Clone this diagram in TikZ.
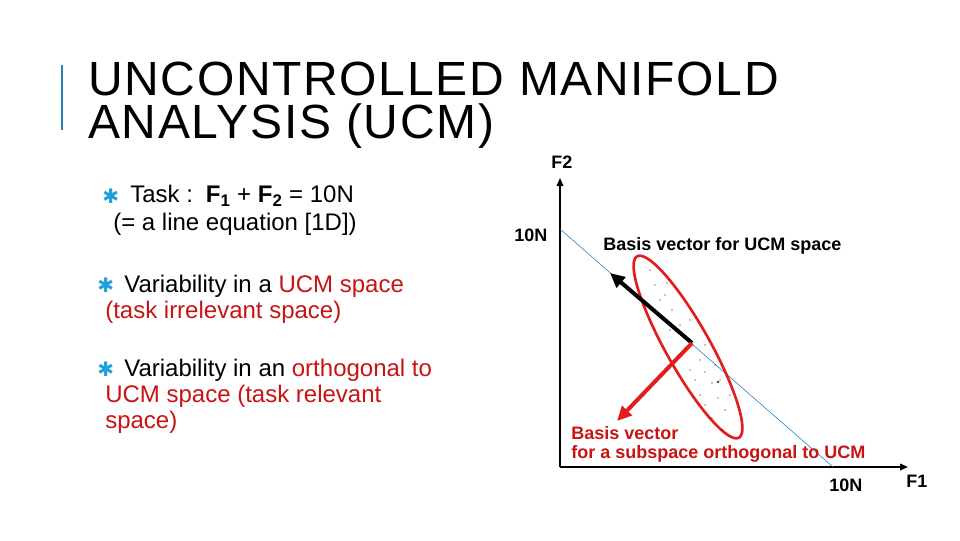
\documentclass[tikz,border=0pt]{standalone}
\usepackage{fontspec}
\setmainfont{Liberation Sans}
\newfontfamily\dv{DejaVu Sans}
\newfontfamily\titlefont[LetterSpace=3.5]{Liberation Sans}
\usetikzlibrary{arrows.meta}
\definecolor{tred}{RGB}{200,20,20}
\definecolor{bred}{RGB}{225,30,30}
\definecolor{barblue}{RGB}{40,130,190}
\definecolor{star}{RGB}{30,160,220}
\begin{document}
\begin{tikzpicture}[x=0.75pt,y=-0.75pt,
  body/.style={anchor=west,font=\fontsize{18}{18}\selectfont,inner sep=0},
  lbl/.style={font=\fontsize{13.5}{13.5}\selectfont\bfseries,inner sep=0},
  bul/.style={anchor=west,text=star,font=\dv\fontsize{15}{15}\selectfont,inner sep=0}]
\useasboundingbox (0,0) rectangle (960,540);
\fill[white] (0,0) rectangle (960,540);
\draw[barblue,line width=1.5pt] (62,65) -- (62,130);
\node[anchor=west,inner sep=0,font=\titlefont\fontsize{36}{36}\selectfont] (t1) at (88,79) {UNCONTROLLED MANIFOLD};
\node[anchor=west,inner sep=0,font=\titlefont\fontsize{36}{36}\selectfont] (t2) at (88,126) {ANALYSIS (UCM)};
% bullets
\node[bul] (b1) at (102,196) {✱};
\node[body] (l1) at (130,196) {Task :\, \textbf{F\textsubscript{1}} + \textbf{F\textsubscript{2}} = 10N};
\node[body] (l2) at (113,224) {(= a line equation [1D])};
\node[bul] (b2) at (97,285) {✱};
\node[body] (l3) at (124,286) {Variability in a \textcolor{tred}{UCM space}};
\node[body,text=tred] (l4) at (105,312) {(task irrelevant space)};
\node[bul] (b3) at (97,369) {✱};
\node[body] (l5) at (124,370) {Variability in an \textcolor{tred}{orthogonal to}};
\node[body,text=tred] (l6) at (105,396) {UCM space (task relevant};
\node[body,text=tred] (l7) at (105,422) {space)};
% diagram
\coordinate (O) at (560,467);
\coordinate (Ytop) at (560,178);
\coordinate (Xend) at (908,467);
\coordinate (L1) at (560,229);
\coordinate (L2) at (833,467);
\draw[line width=1.2pt,-{Triangle[length=6pt,width=5pt]}] (O) -- (Ytop);
\draw[line width=1.2pt,-{Triangle[length=6pt,width=5pt]}] (O) -- (Xend);
\draw[cyan!60!blue,line width=0.4pt] (L1) -- (L2);
\draw[bred,line width=2pt,rotate around={-60.7:(688,347)}] (688,347) ellipse (104 and 22);
\foreach \p in {(650,270),(655,285),(667,283),(672,310),(680,325),(660,300),(690,320),(700,360),(705,372),(712,383),(695,380),(700,395),(718,398),(725,410),(712,418),(722,430),(680,355),(705,345),(715,365),(730,395),(720,380),(665,295),(690,370),(670,330),(705,405)}
  \fill \p circle (0.7);
\fill (718,382) circle (1.2);
\coordinate (C) at (692,343);
\coordinate (Bk) at (610,273);
\coordinate (Rd) at (617,421);
\draw[line width=3pt,-{Triangle[length=11pt,width=10pt]}] (C) -- (Bk);
\draw[bred,line width=3pt,-{Triangle[length=11pt,width=10pt]}] (C) -- (Rd);
\node[lbl,anchor=west] (f2) at (551,162) {F2};
\node[lbl,anchor=west] (n1) at (514,235) {10N};
\node[lbl,anchor=west] (bu) at (603,246) {Basis vector for UCM space};
\node[lbl,anchor=west,text=tred] (r1) at (571,433) {Basis vector};
\node[lbl,anchor=west,text=tred] (r2) at (571,454) {for a subspace orthogonal to UCM};
\node[lbl,anchor=west] (n2) at (829,485) {10N};
\node[lbl,anchor=west] (f1) at (906,481) {F1};
\end{tikzpicture}
\end{document}
